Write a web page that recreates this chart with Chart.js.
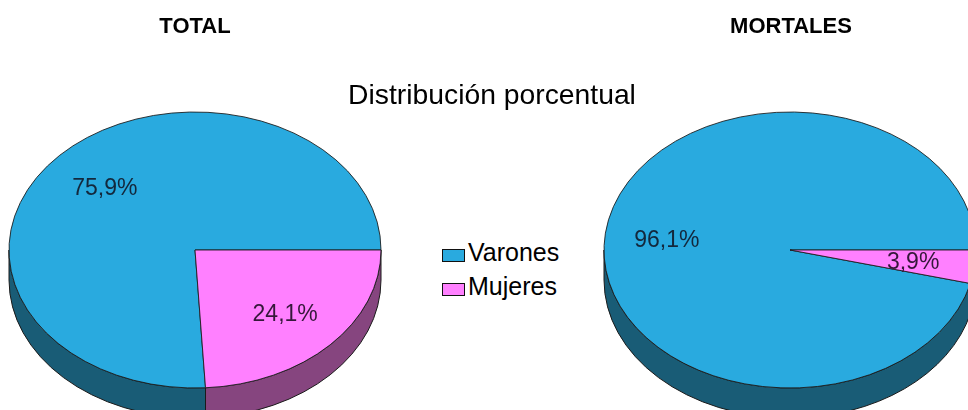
<!DOCTYPE html>
<html>
<head>
<meta charset="utf-8">
<script src="https://cdn.jsdelivr.net/npm/chart.js@4.4.1/dist/chart.umd.min.js"></script>
<style>
html,body{margin:0;padding:0;background:#fff;overflow:hidden;}
#wrap{position:relative;width:968px;height:410px;overflow:hidden;font-family:"Liberation Sans",Arial,sans-serif;color:#000;}
#wrap canvas{position:absolute;top:0;}
.txt{position:absolute;white-space:nowrap;line-height:1;}
.lg{position:absolute;display:flex;align-items:center;white-space:nowrap;}
.lg .box{display:inline-block;width:21px;height:11px;border:1px solid #111;margin-right:3px;}
</style>
</head>
<body>
<div id="wrap">
  <canvas id="c1" width="390" height="410" style="left:0px"></canvas>
  <canvas id="c2" width="390" height="410" style="left:595px"></canvas>
  <div class="txt" id="mainTitle" style="left:0;width:984px;text-align:center;top:80px;font-size:28.3px;">Distribución porcentual</div>
  <div class="txt" id="t1" style="left:95px;width:200px;text-align:center;top:15px;font-size:22px;font-weight:bold;"></div>
  <div class="txt" id="t2" style="left:691px;width:200px;text-align:center;top:15px;font-size:22px;font-weight:bold;"></div>
  <div id="legend"></div>
</div>
<script>
// ---- data ----
const categories = ['Varones', 'Mujeres'];
const totalValues = [75.9, 24.1];
const mortalesValues = [96.1, 3.9];
const chartTitles = ['TOTAL', 'MORTALES'];

// ---- styles ----
const topColors = ['#29AADF', '#FF80FF'];
const sideColors = ['#195C76', '#86457F'];
const labelColors = ['#13283c', '#35183a'];

document.getElementById('t1').textContent = chartTitles[0];
document.getElementById('t2').textContent = chartTitles[1];

// legend (HTML, built from categories)
const lg = document.getElementById('legend');
categories.forEach((c, i) => {
  const row = document.createElement('div');
  row.className = 'lg';
  row.style.left = '442px';
  row.style.top = (240 + i * 33.5) + 'px';
  row.style.height = '25px';
  row.style.fontSize = '25px';
  const b = document.createElement('span');
  b.className = 'box';
  b.style.background = topColors[i];
  b.style.marginTop = '6px';
  const t = document.createElement('span');
  t.textContent = c;
  row.appendChild(b); row.appendChild(t);
  lg.appendChild(row);
});

const fmt = v => v.toFixed(1).replace('.', ',') + '%';

function visibleRanges(s, e) {
  const out = [];
  for (let k = -3; k <= 3; k++) {
    const off = k * 2 * Math.PI;
    const a = Math.max(s + off, 0), b = Math.min(e + off, Math.PI);
    if (b > a) out.push([a, b]);
  }
  return out;
}

const pie3d = {
  id: 'pie3d',
  beforeDatasetsDraw(chart, args, opts) {
    const ctx = chart.ctx;
    const arcs = chart.getDatasetMeta(0).data;
    const cx = arcs[0].x, cy = arcs[0].y;
    const k = opts.tilt, dd = opts.depth / k;
    ctx.save();
    ctx.translate(cx, cy); ctx.scale(1, k); ctx.translate(-cx, -cy);
    arcs.forEach((a, i) => {
      const r = a.outerRadius;
      visibleRanges(a.startAngle, a.endAngle).forEach(([s, e]) => {
        ctx.beginPath();
        ctx.arc(cx, cy, r, s, e);
        ctx.arc(cx, cy + dd, r, e, s, true);
        ctx.closePath();
        ctx.fillStyle = opts.sideColors[i];
        ctx.fill();
        ctx.save();
        ctx.setTransform(1, 0, 0, 1, 0, 0);
        ctx.lineWidth = 1;
        ctx.strokeStyle = '#1a1a1a';
        ctx.stroke();
        ctx.restore();
      });
    });
  },
  afterDatasetsDraw(chart, args, opts) {
    const ctx = chart.ctx;
    ctx.restore();
    const arcs = chart.getDatasetMeta(0).data;
    const vals = chart.data.datasets[0].data;
    ctx.save();
    ctx.font = '23px "Liberation Sans", Arial, sans-serif';
    ctx.textAlign = 'center';
    ctx.textBaseline = 'alphabetic';
    arcs.forEach((a, i) => {
      const mid = (a.startAngle + a.endAngle) / 2;
      const r = a.outerRadius * opts.labelPos;
      const x = a.x + Math.cos(mid) * r;
      const y = a.y + Math.sin(mid) * r * opts.tilt;
      ctx.fillStyle = opts.labelColors[i];
      ctx.fillText(fmt(vals[i]), x, y + 8);
    });
    ctx.restore();
  }
};

function makePie(id, values) {
  const sum = values.reduce((a, b) => a + b, 0);
  return new Chart(document.getElementById(id), {
    type: 'pie',
    data: {
      labels: categories,
      datasets: [{
        data: values,
        backgroundColor: topColors,
        borderColor: '#1a1a1a',
        borderWidth: 1,
        clip: false
      }]
    },
    options: {
      responsive: false,
      animation: false,
      events: [],
      radius: 186,
      rotation: 90 + 360 * values[1] / sum,
      layout: { padding: { left: 0, right: 0, top: 90, bottom: 0 } },
      plugins: {
        legend: { display: false },
        tooltip: { enabled: false },
        pie3d: { tilt: 138 / 186, depth: 30, sideColors: sideColors, labelColors: labelColors, labelPos: 0.667 }
      }
    },
    plugins: [pie3d]
  });
}

makePie('c1', totalValues);
makePie('c2', mortalesValues);
</script>
</body>
</html>
